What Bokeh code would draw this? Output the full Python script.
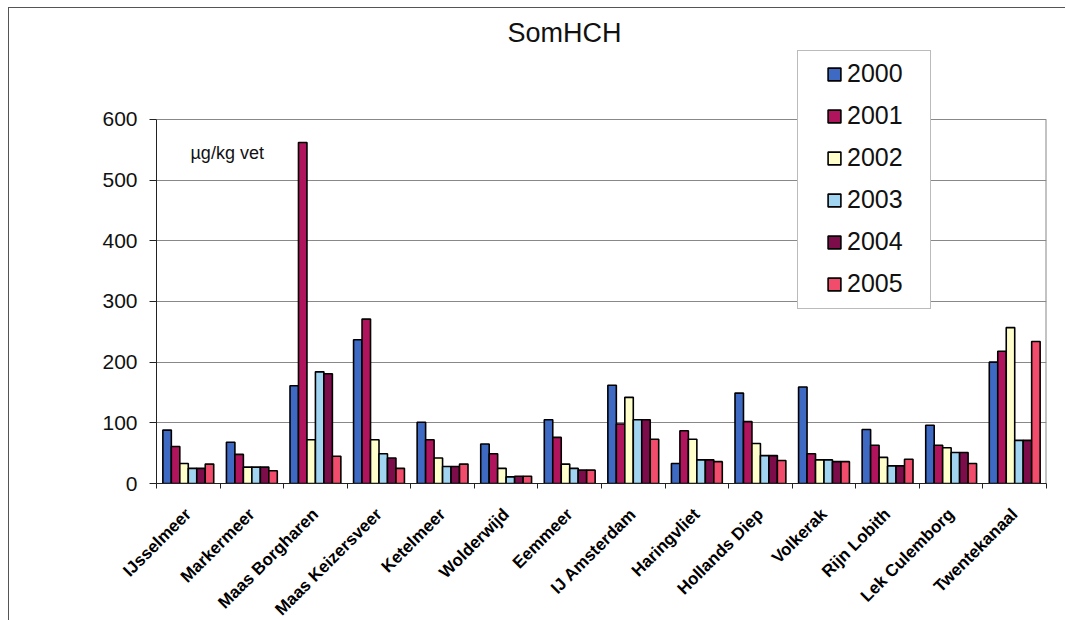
from bokeh.plotting import figure
from bokeh.models import FixedTicker, Legend, LegendItem, Label, Range1d
from bokeh.embed import file_html
from bokeh.resources import INLINE

locations = ["IJsselmeer", "Markermeer", "Maas Borgharen", "Maas Keizersveer",
             "Ketelmeer", "Wolderwijd", "Eemmeer", "IJ Amsterdam", "Haringvliet",
             "Hollands Diep", "Volkerak", "Rijn Lobith", "Lek Culemborg", "Twentekanaal"]
years = ["2000", "2001", "2002", "2003", "2004", "2005"]
v2000 = [88, 68, 161, 237, 101, 65, 105, 162, 33, 149, 159, 89, 96, 200]
v2001 = [61, 48, 562, 271, 72, 49, 76, 98, 87, 102, 49, 63, 63, 218]
v2002 = [33, 27, 72, 72, 42, 25, 32, 142, 73, 66, 39, 43, 59, 257]
v2003 = [25, 27, 184, 49, 28, 11, 25, 105, 39, 46, 39, 29, 51, 71]
v2004 = [25, 27, 181, 42, 28, 12, 22, 105, 39, 46, 36, 29, 51, 71]
v2005 = [32, 21, 45, 25, 32, 12, 22, 73, 36, 38, 36, 40, 33, 234]
series = [v2000, v2001, v2002, v2003, v2004, v2005]
colors = ["#3E6AC4", "#B0145C", "#FFFFCC", "#A0D4F0", "#7C0C4A", "#F24C6C"]
y_ticks = [0, 100, 200, 300, 400, 500, 600]
y_max = 600
y_top = 717  # frame extends above 600 so the legend is not clipped

FONT = "Liberation Sans"

p = figure(frame_width=890, frame_height=435, output_backend="svg", toolbar_location=None,
           x_range=Range1d(0.5, len(locations) + 0.5), y_range=Range1d(0, y_top),
           min_border_left=147, min_border_right=19, min_border_top=40,
           min_border_bottom=136, background_fill_color="white",
           border_fill_color="white")
p.margin = (7, 0, 0, 8)
p.styles = {"border-top": "1px solid #555", "border-left": "1px solid #555"}

p.title.text = "SomHCH"
p.title.align = "left"
p.title.offset = 351
p.title.standoff = 2
p.title.text_font = FONT
p.title.text_font_size = "27px"
p.title.text_font_style = "normal"
p.title.text_color = "#111"

p.outline_line_color = None
p.xgrid.grid_line_color = None
p.ygrid.grid_line_color = "#888"
p.ygrid.ticker = FixedTicker(ticks=y_ticks)

# right border of plot area (0..600)
n = len(locations)
p.segment(x0=[n + 0.5], y0=[0], x1=[n + 0.5], y1=[y_max], line_color="#888", line_width=2)

xs = list(range(1, n + 1))
bw = 0.8 / 6
renderers = []
for k, (yr, vals, col) in enumerate(zip(years, series, colors)):
    off = (k - 2.5) * bw
    r = p.vbar(x=[x + off for x in xs], top=vals, width=bw, bottom=0,
               fill_color=col, line_color="black", line_width=1.6)
    renderers.append(r)

# x axis
xa = p.xaxis[0]
xa.ticker = FixedTicker(ticks=xs, minor_ticks=[x + 0.5 for x in range(0, n + 1)])
xa.major_label_overrides = {x: name for x, name in zip(xs, locations)}
xa.major_label_orientation = 0.785
xa.major_tick_line_color = None
xa.minor_tick_line_color = "#222"
xa.minor_tick_out = 5
xa.minor_tick_in = 0
xa.major_label_text_font = FONT
xa.major_label_text_font_size = "17px"
xa.major_label_text_font_style = "bold"
xa.major_label_text_color = "black"
xa.axis_line_color = "#222"
xa.major_label_standoff = 22

ya = p.yaxis[0]
ya.ticker = FixedTicker(ticks=y_ticks)
ya.bounds = (0, y_max)
ya.major_tick_out = 7
ya.major_tick_in = 0
ya.major_tick_line_color = "#222"
ya.minor_tick_line_color = None
ya.axis_line_color = "#222"
ya.major_label_standoff = 12
ya.major_label_text_font = FONT
ya.major_label_text_font_size = "21px"
ya.major_label_text_color = "#111"

p.add_layout(Label(x=34, y=331, x_units="screen", y_units="screen", text="µg/kg vet",
                   text_font=FONT, text_font_size="18px", text_baseline="middle",
                   text_color="#111"))

# legend: background box (invisible glyphs, blank labels) + entries
dummy = p.vbar(x=[], top=[], width=0.1, fill_alpha=0, line_alpha=0)
common = dict(label_text_font=FONT, label_text_font_size="25px", label_height=29,
              glyph_height=16, glyph_width=16, spacing=13, padding=9,
              label_standoff=5, margin=0)
box = Legend(items=[LegendItem(label=" ", renderers=[dummy]) for _ in years],
             location=(641, 174), border_line_color="#777", border_line_width=1.5,
             background_fill_color="white", background_fill_alpha=1.0,
             label_width=93, **common)
leg = Legend(items=[LegendItem(label=y, renderers=[r]) for y, r in zip(years, renderers)],
             location=(670, 185), border_line_color=None, background_fill_alpha=0,
             label_width=60, label_text_color="#111", **common)
p.add_layout(box)
p.add_layout(leg)

open("out.html", "w").write(file_html(p, INLINE))
